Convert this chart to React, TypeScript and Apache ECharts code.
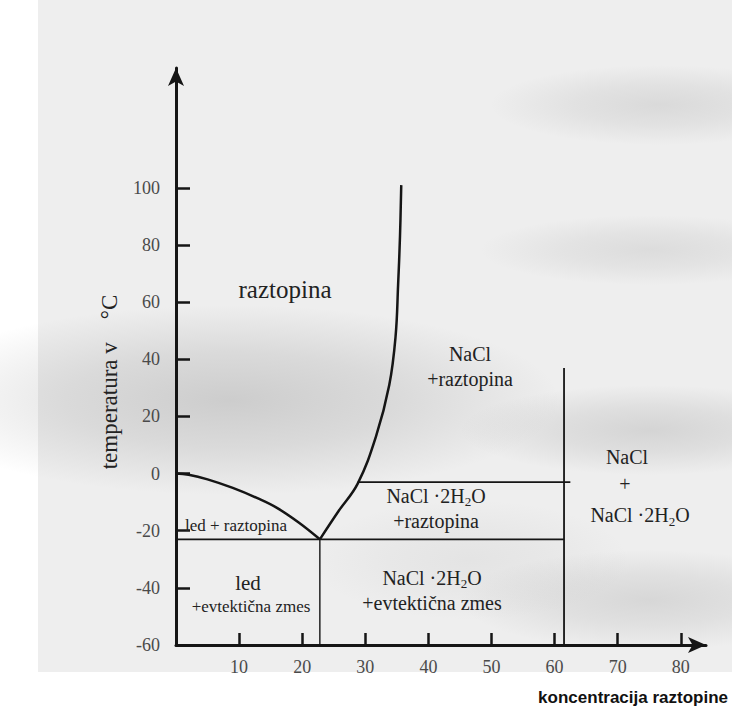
import React, { useEffect, useRef } from "react";
import * as echarts from "echarts";

// ---- data ----
const xTickValues = [10, 20, 30, 40, 50, 60, 70, 80];
const yTickValues = [-60, -40, -20, 0, 20, 40, 60, 80, 100];

const iceCurve = [
  [0, 0], [2, -0.4], [5, -2], [9, -5], [13, -8.7], [16, -12], [19.5, -17.2], [22.8, -23],
];
const saltCurve = [
  [22.8, -23], [25.8, -13], [28.8, -3.5], [31.7, 13], [33.8, 31], [34.8, 48], [35.2, 66], [35.5, 83], [35.7, 101],
];
const eutecticLine = [[0, -23], [61.5, -23]];
const hydrateLine = [[28.8, -3], [62.5, -3]];
const hydrateVertical = [[61.5, -60], [61.5, 37]];
const eutecticVertical = [[22.8, -60], [22.8, -23]];

const SERIF = "'Liberation Serif', 'DejaVu Serif', serif";
const INK = "#151515";

function lineSeries(data: number[][], width: number, smooth: number | boolean = false) {
  return {
    type: "line",
    data,
    smooth,
    symbol: "none",
    showSymbol: false,
    silent: true,
    lineStyle: { color: INK, width },
    z: 3,
  };
}

const rich = (size: number) => ({
  n: { fontFamily: SERIF, fontSize: size, lineHeight: size + 5, fill: "#222" },
  s: { fontFamily: SERIF, fontSize: Math.round(size * 0.65), lineHeight: Math.round(size * 0.65), verticalAlign: "bottom", fill: "#222" },
});

function label(x: number, y: number, text: string, size: number, align = "center") {
  return {
    type: "text",
    x,
    y,
    z: 10,
    style: {
      text,
      rich: rich(size),
      align,
      verticalAlign: "middle",
      font: `${size}px ${SERIF}`,
      fill: "#222",
    },
  };
}

function blob(cx: number, cy: number, rx: number, ry: number, a: number) {
  return {
    type: "ellipse",
    z: -9,
    shape: { cx, cy, rx, ry },
    style: {
      fill: {
        type: "radial",
        x: 0.5,
        y: 0.5,
        r: 0.5,
        colorStops: [
          { offset: 0, color: `rgba(110,110,110,${a})` },
          { offset: 0.5, color: `rgba(110,110,110,${a * 0.6})` },
          { offset: 1, color: "rgba(110,110,110,0)" },
        ],
      },
    },
    silent: true,
  };
}

export default function App() {
  const ref = useRef<HTMLDivElement>(null);

  useEffect(() => {
    document.body.style.margin = "0";
    if (!ref.current) return;
    const chart = echarts.init(ref.current, null, { renderer: "svg" });
    chart.setOption({
      animation: false,
      backgroundColor: "#ffffff",
      grid: { left: 176, right: 26, top: 68, bottom: 64 },
      xAxis: {
        type: "value",
        min: 0,
        max: 84,
        interval: 10,
        axisLine: {
          onZero: false,
          lineStyle: { color: INK, width: 3 },
          symbol: ["none", "arrow"],
          symbolSize: [12, 18],
        },
        axisTick: { show: true, inside: true, length: 12, customValues: xTickValues, lineStyle: { color: INK, width: 2.5 } },
        axisLabel: { customValues: xTickValues, margin: 13, fontFamily: SERIF, fontSize: 18, color: "#4a4a4a" },
        splitLine: { show: false },
      },
      yAxis: {
        type: "value",
        min: -60,
        max: 142,
        interval: 20,
        axisLine: {
          onZero: false,
          lineStyle: { color: INK, width: 3 },
          symbol: ["none", "arrow"],
          symbolSize: [12, 18],
        },
        axisTick: { show: true, inside: true, length: 14, customValues: yTickValues, lineStyle: { color: INK, width: 2.5 } },
        axisLabel: { customValues: yTickValues, margin: 16, fontFamily: SERIF, fontSize: 18, color: "#4a4a4a" },
        splitLine: { show: false },
      },
      graphic: [
        { type: "rect", z: -10, silent: true, shape: { x: 38, y: 0, width: 694, height: 672 }, style: { fill: "#eeeeee" } },
        blob(230, 400, 330, 95, 0.26),
        blob(660, 105, 170, 40, 0.16),
        blob(650, 250, 170, 35, 0.14),
        blob(650, 430, 190, 45, 0.2),
        blob(650, 600, 190, 50, 0.18),
        blob(470, 560, 160, 60, 0.08),
        label(285, 289, "{n|raztopina}", 25),
        label(470, 366, "{n|NaCl}\n{n|+raztopina}", 20),
        label(436, 508, "{n|NaCl ·2H}{s|2}{n|O}\n{n|+raztopina}", 20),
        label(432, 590, "{n|NaCl ·2H}{s|2}{n|O}\n{n|+evtektična zmes}", 20),
        label(627, 457, "{n|NaCl}", 20),
        label(625, 484, "{n|+}", 20),
        label(640, 515, "{n|NaCl ·2H}{s|2}{n|O}", 20),
        label(185, 525, "{n|led + raztopina}", 17, "left"),
        label(248, 583, "{n|led}", 21),
        label(251, 606, "{n|+evtektična zmes}", 17),
        {
          type: "text",
          x: 109,
          y: 382,
          rotation: Math.PI / 2,
          z: 10,
          style: {
            text: "temperatura v    °C",
            font: `23px ${SERIF}`,
            fill: "#222",
            align: "center",
            verticalAlign: "middle",
          },
        },
        {
          type: "text",
          x: 728,
          y: 697,
          z: 10,
          style: {
            text: "koncentracija raztopine",
            font: "bold 17px 'Liberation Sans', Arial, sans-serif",
            fill: "#111",
            align: "right",
            verticalAlign: "middle",
          },
        },
      ],
      series: [
        lineSeries(iceCurve, 2.5, 0.4),
        lineSeries(saltCurve, 2.5, 0.4),
        lineSeries(eutecticLine, 1.8),
        lineSeries(hydrateLine, 1.8),
        lineSeries(hydrateVertical, 1.8),
        lineSeries(eutecticVertical, 1.4),
      ],
    });
    return () => chart.dispose();
  }, []);

  return <div ref={ref} style={{ width: 732, height: 709 }} />;
}
